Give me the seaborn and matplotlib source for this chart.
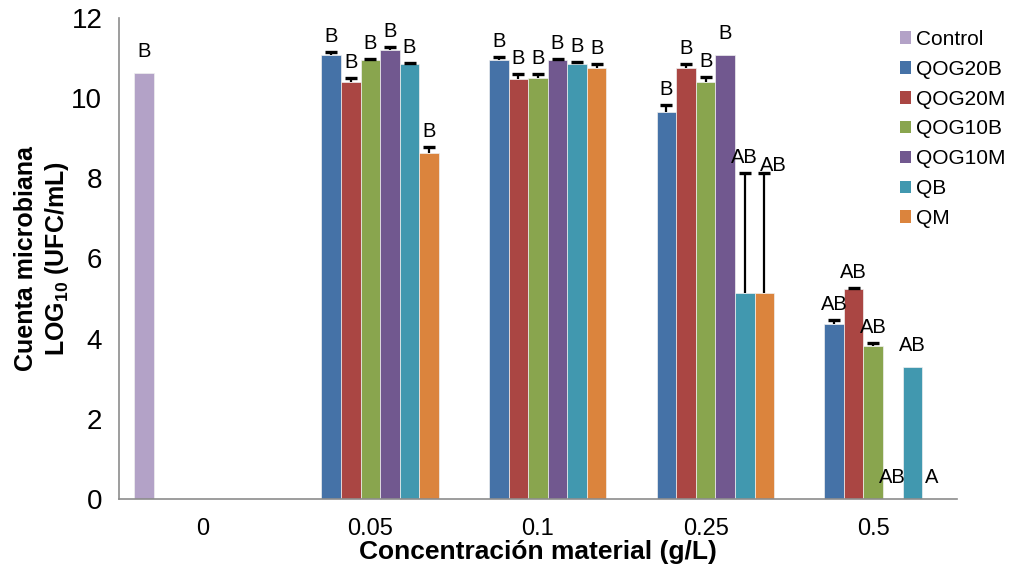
import numpy as np
import pandas as pd
import matplotlib
matplotlib.use("Agg")
import matplotlib.pyplot as plt
from matplotlib.patches import Patch
import seaborn as sns

nan = np.nan
categories = ["0", "0.05", "0.1", "0.25", "0.5"]
series = ["Control", "QOG20B", "QOG20M", "QOG10B", "QOG10M", "QB", "QM"]
colors = ["#B3A2C7", "#4572A7", "#AA4643", "#89A54E", "#71588F", "#4198AF", "#DB843D"]

control = [10.62, nan, nan, nan, nan]
qog20b = [nan, 11.08, 10.94, 9.66, 4.36]
qog20m = [nan, 10.40, 10.47, 10.75, 5.23]
qog10b = [nan, 10.94, 10.50, 10.40, 3.82]
qog10m = [nan, 11.20, 10.95, 11.08, 0.0]
qb = [nan, 10.85, 10.85, 5.15, 3.30]
qm = [nan, 8.62, 10.75, 5.15, 0.0]

err_control = [0, 0, 0, 0, 0]
err_qog20b = [0, 0.08, 0.08, 0.17, 0.10]
err_qog20m = [0, 0.10, 0.13, 0.10, 0.03]
err_qog10b = [0, 0.04, 0.10, 0.14, 0.06]
err_qog10m = [0, 0.08, 0.03, 0.0, 0.0]
err_qb = [0, 0.03, 0.04, 2.98, 0.0]
err_qm = [0, 0.16, 0.11, 2.98, 0.0]

lab_control = ["B", "", "", "", ""]
lab_qog20b = ["", "B", "B", "B", "AB"]
lab_qog20m = ["", "B", "B", "B", "AB"]
lab_qog10b = ["", "B", "B", "B", "AB"]
lab_qog10m = ["", "B", "B", "B", "AB"]
lab_qb = ["", "B", "B", "AB", "AB"]
lab_qm = ["", "B", "B", "AB", "A"]

values = [control, qog20b, qog20m, qog10b, qog10m, qb, qm]
errors = [err_control, err_qog20b, err_qog20m, err_qog10b, err_qog10m, err_qb, err_qm]
letters = [lab_control, lab_qog20b, lab_qog20m, lab_qog10b, lab_qog10m, lab_qb, lab_qm]

rows = []
for s, vals in zip(series, values):
    for c, v in zip(categories, vals):
        if not np.isnan(v):
            rows.append({"conc": c, "serie": s, "valor": v})
df = pd.DataFrame(rows)

sns.set_theme(style="white")
plt.rcParams["font.family"] = ["Liberation Sans", "DejaVu Sans"]
plt.rcParams["text.color"] = "black"
plt.rcParams["axes.labelcolor"] = "black"
plt.rcParams["xtick.color"] = "black"
plt.rcParams["ytick.color"] = "black"
plt.rcParams["mathtext.fontset"] = "custom"
plt.rcParams["mathtext.rm"] = "Liberation Sans:bold"
plt.rcParams["mathtext.it"] = "Liberation Sans:bold"
plt.rcParams["mathtext.bf"] = "Liberation Sans:bold"
plt.rcParams["mathtext.default"] = "rm"

fig = plt.figure(figsize=(10.10, 5.75), dpi=100)
ax = fig.add_axes([119 / 1010, 1 - 499 / 575, 838 / 1010, 481 / 575])

sns.barplot(data=df, x="conc", y="valor", hue="serie", order=categories,
            hue_order=series, palette=colors, width=0.817, gap=0, dodge=True,
            errorbar=None, saturation=1, ax=ax, legend=False,
            edgecolor="#f0f0f0", linewidth=0.5)

pal_rgb = [np.array(matplotlib.colors.to_rgb(c)) for c in colors]
for p in list(ax.patches):
    fc = np.array(p.get_facecolor()[:3])
    si = int(np.argmin([np.sum((fc - c) ** 2) for c in pal_rgb]))
    xc = p.get_x() + p.get_width() / 2
    ci = int(round(xc))
    h = p.get_height()
    e = errors[si][ci]
    if e > 0:
        ax.errorbar(xc, h, yerr=[[0], [e]], fmt="none", ecolor="black",
                    elinewidth=1.6, capsize=0, zorder=5)
        ax.plot(xc, h + e, marker="_", markersize=9, mew=2.4, color="black", zorder=5)
    lab = letters[si][ci]
    if lab:
        dx, dy = 0, (6 if e > 0 else 12)
        if series[si] == "QM" and categories[ci] == "0.25":
            dx, dy = 9, -2
        ax.annotate(lab, (xc, h + e), xytext=(dx, dy), textcoords="offset pixels",
                    ha="center", va="bottom", fontsize=14.5, color="black", zorder=6)

ax.set_ylim(0, 12)
ax.set_xlim(-0.5, 4.5)
ax.set_yticks(range(0, 13, 2))
ax.tick_params(axis="both", length=0)
ax.tick_params(axis="y", labelsize=20, pad=12)
ax.tick_params(axis="x", labelsize=17, pad=14)
for s in ["top", "right"]:
    ax.spines[s].set_visible(False)
for s in ["left", "bottom"]:
    ax.spines[s].set_color("#8c8c8c")
    ax.spines[s].set_linewidth(1.2)

ax.set_xlabel("Concentración material (g/L)", fontsize=19, fontweight="bold", labelpad=0)
ax.set_ylabel("Cuenta microbiana\nLOG$_{10}$ (UFC/mL)", fontsize=18, fontweight="bold",
              linespacing=1.25)
ax.yaxis.set_label_coords(-0.057, 0.5)

handles = [Patch(facecolor=c, edgecolor="none") for c in colors]
fig.legend(handles, series, loc="upper left", bbox_to_anchor=(900 / 1010, 1 - 30 / 575),
           frameon=False, fontsize=15, handlelength=0.55, handleheight=0.55,
           handletextpad=0.22, labelspacing=0.52, borderpad=0, borderaxespad=0)

fig.savefig("out.png", dpi=100)
